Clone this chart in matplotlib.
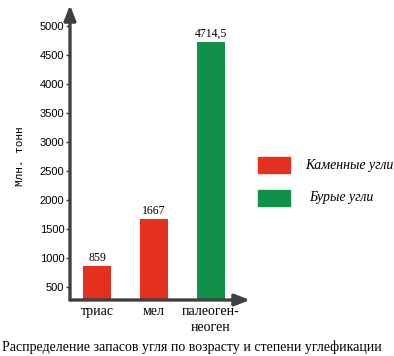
import matplotlib
matplotlib.use("Agg")
import matplotlib.pyplot as plt
from matplotlib.patches import Rectangle

categories = ["триас", "мел", "палеоген-\nнеоген"]
values = [859, 1667, 4714.5]
value_labels = ["859", "1667", "4714,5"]
series = ["Каменные угли", "Каменные угли", "Бурые угли"]
yticks = [500, 1000, 1500, 2000, 2500, 3000, 3500, 4000, 4500, 5000]
legend_names = ["Каменные угли", "Бурые угли"]

RED = "#e3301f"
GREEN = "#0f914a"
colors = {"Каменные угли": RED, "Бурые угли": GREEN}

W, H = 394, 356
fig = plt.figure(figsize=(W / 100, H / 100), dpi=100)
ax = fig.add_axes([70 / W, (H - 300) / H, 180 / W, 295 / H])

x = list(range(len(categories)))
ax.bar(x, [v - 275 for v in values], bottom=275, width=0.49,
       color=[colors[s] for s in series], zorder=2)
ax.set_xlim(-0.474, 2.684)
ax.set_ylim(275, 5360)

for xi, v, lab in zip(x, values, value_labels):
    ax.text(xi, v + 40, lab, ha="center", va="bottom",
            family="Liberation Serif", fontsize=8.5)

for s in ax.spines.values():
    s.set_visible(False)
axcol = "#404040"
ax.annotate("", xy=(0, 1.0), xytext=(0, 0), xycoords="axes fraction",
            arrowprops=dict(arrowstyle="-|>,head_length=0.9,head_width=0.35",
                            color=axcol, lw=2.4, shrinkA=0, shrinkB=0))
ax.annotate("", xy=(1.0, 0), xytext=(0, 0), xycoords="axes fraction",
            arrowprops=dict(arrowstyle="-|>,head_length=0.9,head_width=0.35",
                            color=axcol, lw=2.4, shrinkA=0, shrinkB=0))

ax.set_yticks(yticks)
ax.set_yticklabels([str(t) for t in yticks], family="Liberation Sans", fontsize=8)
ax.tick_params(axis="y", length=3, width=1, color=axcol, pad=1)
ax.set_xticks(x)
ax.set_xticklabels(categories, family="Liberation Serif", fontsize=10,
                   linespacing=1.3)
ax.tick_params(axis="x", length=0, pad=3.5)

fig.text(20 / W, 1 - 156 / H, "Млн. тонн", rotation=90, ha="center", va="center",
         family="Liberation Mono", fontsize=8)

# legend
for i, name in enumerate(legend_names):
    y0 = [157, 190][i]
    fig.patches.append(Rectangle((258 / W, 1 - (y0 + 16) / H), 32 / W, 16 / H,
                                 transform=fig.transFigure, color=colors[name]))
    fig.text([305, 309][i] / W, 1 - (y0 + 8) / H, name, ha="left", va="center",
             family="Liberation Serif", style="italic", fontsize=10)

fig.text(2 / W, 1 - 347 / H,
         "Распределение запасов угля по возрасту и степени углефикации",
         ha="left", va="center", family="Liberation Serif", fontsize=10)

fig.savefig("out.png", dpi=100)
